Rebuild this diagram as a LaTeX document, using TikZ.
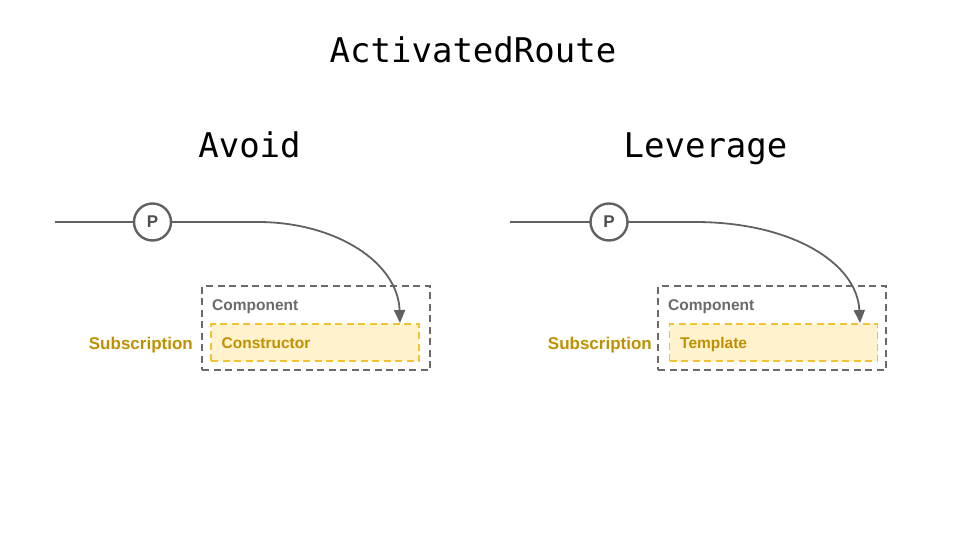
\documentclass[tikz,border=0pt]{standalone}
\usepackage{fontspec}
\setmainfont{Liberation Sans}
\newfontfamily\monofam{DejaVu Sans Mono}
\usetikzlibrary{arrows.meta}
\definecolor{linegray}{HTML}{616161}
\definecolor{boxgray}{HTML}{6A6A6A}
\definecolor{subyellow}{HTML}{BF9000}
\definecolor{dashyellow}{HTML}{F1C232}
\definecolor{fillyellow}{HTML}{FFF2CC}
\tikzset{
  heading/.style={font=\monofam\fontsize{34}{37}\selectfont, inner sep=0pt, anchor=base, text=black},
  stream/.style={draw=linegray, line width=1.8pt},
  pcircle/.style={circle, draw=linegray, line width=2.4pt, fill=white, minimum size=37pt, inner sep=0pt,
    font=\bfseries\fontsize{17}{18}\selectfont, text=linegray!80!black},
  compbox/.style={draw=boxgray, line width=1.5pt, dash pattern=on 7pt off 4.5pt, rectangle,
    minimum width=228pt, minimum height=84pt, inner sep=0pt},
  hookbox/.style={draw=dashyellow, fill=fillyellow, line width=1.5pt, dash pattern=on 7pt off 4.5pt,
    rectangle, minimum width=208pt, minimum height=37pt, inner sep=0pt},
  complabel/.style={font=\bfseries\fontsize{15.5}{17}\selectfont, text=boxgray, inner sep=0pt, anchor=base west},
  hooklabel/.style={font=\bfseries\fontsize{15.5}{17}\selectfont, text=subyellow, inner sep=0pt, anchor=base west},
  sublabel/.style={font=\bfseries\fontsize{17}{19}\selectfont, text=subyellow, inner sep=0pt, anchor=base east},
  flow/.style={draw=linegray, line width=1.8pt, -{Triangle[length=13pt,width=11pt]}}
}
\begin{document}
\begin{tikzpicture}[x=1pt,y=-1pt]
\useasboundingbox (0,0) rectangle (960,540);
\node[heading] (title) at (473,62.5) {ActivatedRoute};
\node[heading] (avoid) at (249.5,158) {Avoid};
\node[heading] (leverage) at (705.5,158) {Leverage};

% left
\node[compbox] (comp1) at (316,328) {};
\node[hookbox] (hook1) at (315,342.5) {};
\node[complabel] (comptext1) at (212,310.5) {Component};
\node[hooklabel] (hooktext1) at (221.5,348.3) {Constructor};
\node[sublabel] (sub1) at (193,349.5) {Subscription};
\coordinate (start1) at (55,222);
\coordinate (bend1) at (258,222);
\coordinate (tip1) at (400,323);
\draw[stream] (start1) -- (bend1);
\node[pcircle] (p1) at (152.5,222) {P};
\draw[flow] (bend1) .. controls (335,222) and (398,262) .. (tip1);

% right
\node[compbox] (comp2) at (772,328) {};
\node[hookbox] (hook2) at (773.5,342.5) {};
\node[complabel] (comptext2) at (668,310.5) {Component};
\node[hooklabel] (hooktext2) at (680,348.3) {Template};
\node[sublabel] (sub2) at (652,349.5) {Subscription};
\coordinate (start2) at (510,222);
\coordinate (bend2) at (695,222);
\coordinate (tip2) at (860,323);
\draw[stream] (start2) -- (bend2);
\node[pcircle] (p2) at (609,222) {P};
\draw[flow] (bend2) .. controls (790,222) and (857,262) .. (tip2);
\end{tikzpicture}
\end{document}
